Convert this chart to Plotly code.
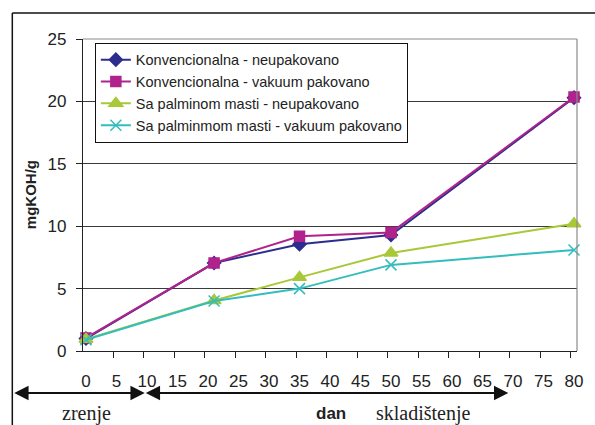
import plotly.graph_objects as go

# Storage days
dani = [0, 21, 35, 50, 80]

# Acid value, mgKOH/g
konv_neupak = [1.0, 7.05, 8.55, 9.3, 20.3]
konv_vakuum = [1.05, 7.05, 9.2, 9.5, 20.35]
palm_neupak = [0.95, 4.05, 5.9, 7.85, 10.2]
palm_vakuum = [0.9, 4.0, 5.0, 6.9, 8.1]

nazivi = [
    "Konvencionalna - neupakovano",
    "Konvencionalna - vakuum pakovano",
    "Sa palminom masti - neupakovano",
    "Sa palminmom masti - vakuum pakovano",
]
x_oznake = list(range(0, 81, 5))
y_oznake = [0, 5, 10, 15, 20, 25]

SANS = "Arial, Liberation Sans, sans-serif"
SERIF = "Times New Roman, Liberation Serif, serif"

stilovi = [
    dict(color="#2B2D8F", symbol="diamond", size=10, lw=2),
    dict(color="#B0228C", symbol="square", size=10, lw=2),
    dict(color="#A8C838", symbol="triangle-up", size=12, lw=2),
    dict(color="#33BDBD", symbol="x-thin-open", size=11, lw=2),
]

fig = go.Figure()
for naziv, vrijednosti, s in zip(nazivi, [konv_neupak, konv_vakuum, palm_neupak, palm_vakuum], stilovi):
    fig.add_trace(go.Scatter(
        x=dani, y=vrijednosti, name=naziv, mode="lines+markers",
        line=dict(color=s["color"], width=s["lw"]),
        marker=dict(symbol=s["symbol"], size=s["size"], color=s["color"],
                    line=dict(color=s["color"], width=1.5)),
        cliponaxis=False,
    ))

fig.update_layout(
    width=595, height=425,
    margin=dict(l=83, r=16, t=39, b=74),
    paper_bgcolor="white", plot_bgcolor="white",
    font=dict(family=SANS, size=17, color="#222"),
    showlegend=True,
    legend=dict(
        x=0.024, y=0.988, xanchor="left", yanchor="top",
        bgcolor="white", bordercolor="#111", borderwidth=1,
        font=dict(family=SANS, size=14.5, color="#222"),
        tracegroupgap=0, itemwidth=30,
    ),
)

fig.update_xaxes(
    range=[-0.49, 80.49], tickvals=x_oznake, ticktext=[str(v) for v in x_oznake],
    ticks="", showgrid=False, zeroline=False,
    showline=True, linecolor="#222", linewidth=1.2,
    ticklabelstandoff=14,
    minor=dict(tickvals=[v - 0.55 for v in x_oznake], ticks="outside",
               ticklen=6, tickcolor="#222", showgrid=False),
)
fig.update_yaxes(
    range=[0, 25], tickvals=y_oznake,
    ticks="outside", ticklen=6, tickcolor="#222",
    showgrid=True, gridcolor="#3a3a3a", gridwidth=1,
    zeroline=False, showline=True, linecolor="#222", linewidth=1.2,
    ticklabelstandoff=6,
)

# plot area border (top and right in grey)
fig.add_shape(type="line", xref="paper", yref="paper", x0=0, x1=1, y0=1, y1=1,
              line=dict(color="#8a8a8a", width=1.2))
fig.add_shape(type="line", xref="paper", yref="paper", x0=1, x1=1, y0=0, y1=1,
              line=dict(color="#8a8a8a", width=1.2))

# outer frame (top and left)
fig.add_shape(type="line", xref="paper", yref="paper", x0=-0.1431, x1=1.04,
              y0=1.0833, y1=1.0833, line=dict(color="#111", width=1.5))
fig.add_shape(type="line", xref="paper", yref="paper", x0=-0.1431, x1=-0.1431,
              y0=-0.3, y1=1.0833, line=dict(color="#111", width=1.5))

# y axis title
fig.add_annotation(xref="paper", yref="paper", x=-0.107, y=0.5, text="<b>mgKOH/g</b>",
                   textangle=-90, showarrow=False, xanchor="center", yanchor="middle",
                   font=dict(family=SANS, size=15, color="#222"))

# ripening and storage period arrows
y_str = (351 - 393) / 312
fig.add_annotation(xref="paper", yref="paper", x=(145 - 83) / 496, y=y_str,
                   ax=-132, ay=0, text="", showarrow=True, arrowside="end+start",
                   arrowhead=2, arrowsize=1.3, arrowwidth=2.2, arrowcolor="#111")
fig.add_annotation(xref="paper", yref="paper", x=(510 - 83) / 496, y=y_str,
                   ax=-364, ay=0, text="", showarrow=True, arrowside="end+start",
                   arrowhead=2, arrowsize=1.3, arrowwidth=2.2, arrowcolor="#111")

y_txt = (351 - 413) / 312
for tekst, px, fam, vel in [("zrenje", 87, SERIF, 20), ("<b>dan</b>", 332, SANS, 17),
                            ("skladištenje", 425, SERIF, 20)]:
    fig.add_annotation(xref="paper", yref="paper", x=(px - 83) / 496, y=y_txt, text=tekst,
                       showarrow=False, xanchor="center", yanchor="middle",
                       font=dict(family=fam, size=vel, color="#222"))

fig.write_html("out.html")
